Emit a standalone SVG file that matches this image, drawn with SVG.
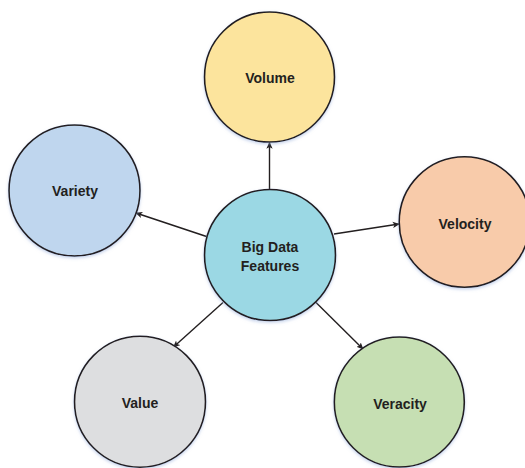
<svg xmlns="http://www.w3.org/2000/svg" width="525" height="468" viewBox="0 0 525 468">
  <style>
    .node { stroke: #231F20; stroke-width: 1.6; filter: url(#glow); }
    .label { font-family: "Liberation Sans", Arial, sans-serif; font-weight: bold; font-size: 14px; fill: #231F20; text-anchor: middle; }
    .edge { stroke: #231F20; stroke-width: 1.4; fill: none; marker-end: url(#arrow); }
  </style>
  <defs>
    <marker id="arrow" viewBox="0 0 10 10" refX="9" refY="5" markerWidth="7" markerHeight="7" markerUnits="userSpaceOnUse" orient="auto">
      <path d="M0,0.5 L10,5 L0,9.5 L2.5,5 Z" fill="#231F20"/>
    </marker>
    <filter id="glow" x="-20%" y="-20%" width="140%" height="140%">
      <feDropShadow dx="0" dy="1.5" stdDeviation="1.5" flood-color="#8FA8D8" flood-opacity="0.5"/>
    </filter>
  </defs>

  <g id="connectors">
    <line class="edge" x1="269.5" y1="190" x2="269.5" y2="142.5"/>
    <line class="edge" x1="206.5" y1="236.5" x2="136" y2="213"/>
    <line class="edge" x1="334" y1="234" x2="399" y2="224"/>
    <line class="edge" x1="223" y1="302.5" x2="173.5" y2="347"/>
    <line class="edge" x1="315.5" y1="302" x2="363" y2="349"/>
  </g>

  <g id="volume">
    <circle class="node" cx="269.5" cy="77" r="65" fill="#FCE49D"/>
    <text class="label" x="270" y="82.5">Volume</text>
  </g>

  <g id="variety">
    <circle class="node" cx="74.5" cy="190.5" r="65.5" fill="#BFD6EE"/>
    <text class="label" x="75" y="196">Variety</text>
  </g>

  <g id="big-data-features">
    <circle class="node" cx="270" cy="255" r="65.5" fill="#9BD8E4"/>
    <text class="label" x="270" y="251.5">Big Data</text>
    <text class="label" x="270" y="270.5">Features</text>
  </g>

  <g id="velocity">
    <circle class="node" cx="464.5" cy="222" r="65.3" fill="#F8CBAA"/>
    <text class="label" x="465" y="228.5">Velocity</text>
  </g>

  <g id="value">
    <circle class="node" cx="140" cy="401.7" r="65.5" fill="#DDDEE0"/>
    <text class="label" x="140" y="407.5">Value</text>
  </g>

  <g id="veracity">
    <circle class="node" cx="399.3" cy="402" r="65" fill="#C6DFB3"/>
    <text class="label" x="400" y="408.5">Veracity</text>
  </g>
</svg>
